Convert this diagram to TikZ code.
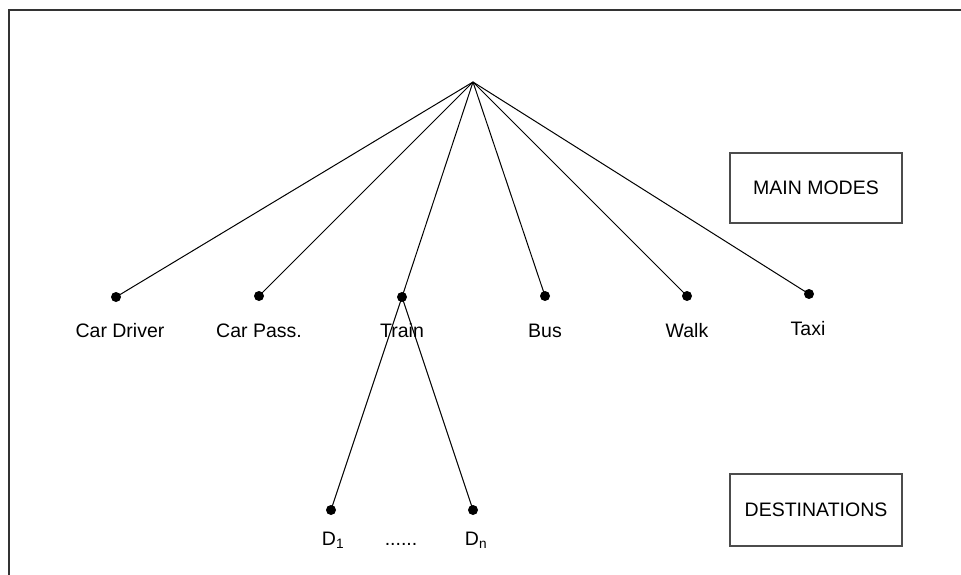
\documentclass[tikz,border=0pt]{standalone}
\usepackage{fontspec}
\setmainfont{Liberation Sans}
\begin{document}
\begin{tikzpicture}[x=1pt,y=-1pt,
  dotnode/.style={circle,fill=black,inner sep=0pt,minimum size=10pt},
  lbl/.style={anchor=base,inner sep=0pt,font=\fontsize{19.5}{22}\selectfont},
  legend/.style={draw=black!70,line width=1.2pt,minimum width=172pt,minimum height=70pt,inner sep=0pt,font=\fontsize{19.5}{22}\selectfont},
  conn/.style={line width=1pt}]
\useasboundingbox (0,0) rectangle (961,575);
\draw[line width=2pt,black!80] (9,575) -- (9,10) -- (961,10);
\coordinate (apex) at (473,82);
\node[dotnode] (cd) at (116,297) {};
\node[dotnode] (cp) at (259,296) {};
\node[dotnode] (tr) at (402,297) {};
\node[dotnode] (bu) at (545,296) {};
\node[dotnode] (wa) at (687,296) {};
\node[dotnode] (ta) at (809,294) {};
\node[dotnode] (d1) at (331,510) {};
\node[dotnode] (dn) at (473,510) {};
\foreach \n in {cd,cp,tr,bu,wa,ta} \draw[conn] (apex) -- (\n.center);
\draw[conn] (tr.center) -- (d1.center);
\draw[conn] (tr.center) -- (dn.center);
\node[lbl] (lcd) at (120,337) {Car Driver};
\node[lbl] (lcp) at (259,337) {Car Pass.};
\node[lbl] (ltr) at (402,337) {Train};
\node[lbl] (lbu) at (545,337) {Bus};
\node[lbl] (lwa) at (687,337) {Walk};
\node[lbl] (lta) at (808,335) {Taxi};
\node[lbl] (ld1) at (333,545) {D\textsubscript{1}};
\node[lbl] (ldots) at (401,545) {......};
\node[lbl] (ldn) at (476,545) {D\textsubscript{n}};
\node[legend] (mm) at (816,188) {MAIN MODES};
\node[legend,minimum height=72pt] (de) at (816,510) {DESTINATIONS};
\end{tikzpicture}
\end{document}
